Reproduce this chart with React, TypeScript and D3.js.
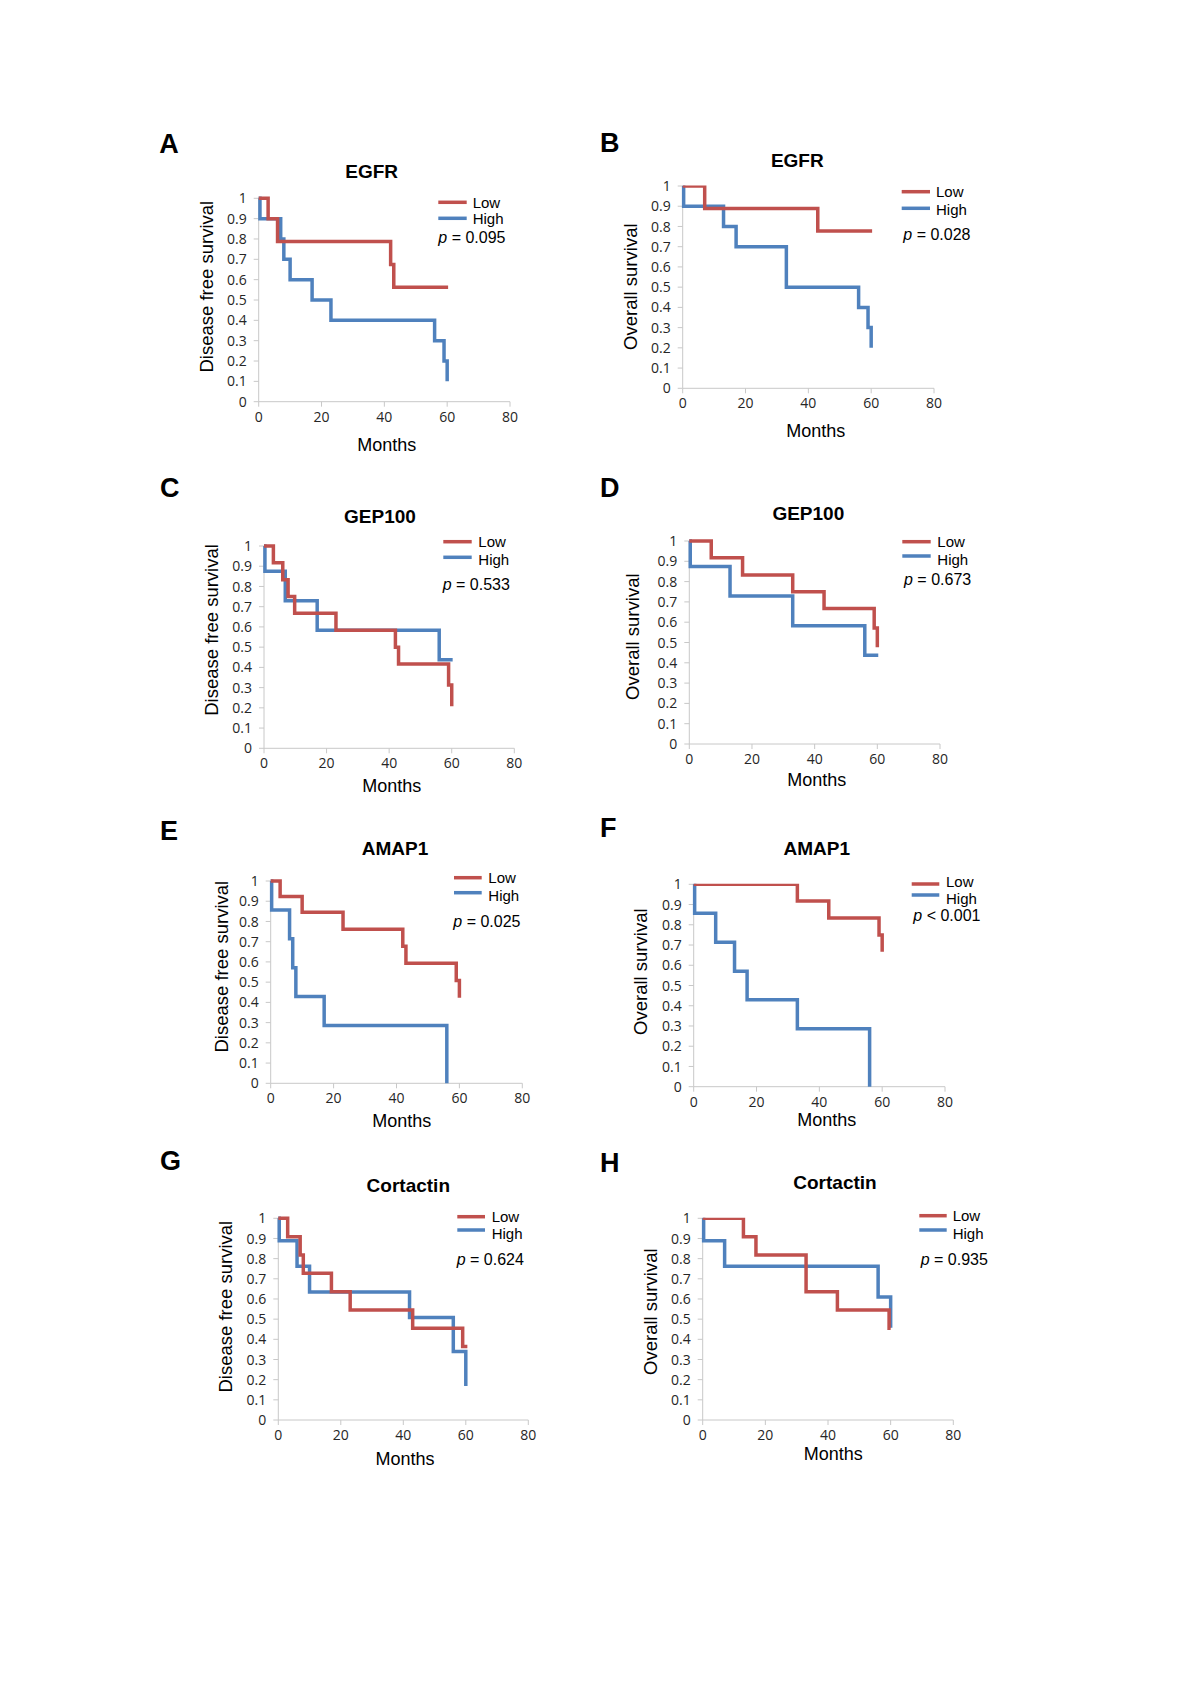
import React from "react";
import * as d3 from "d3";

// ---- tick labels ----
const monthTicks = [0, 20, 40, 60, 80];
const survivalTicks = [0, 0.1, 0.2, 0.3, 0.4, 0.5, 0.6, 0.7, 0.8, 0.9, 1];
const seriesNames = ["Low", "High"];

// ---- panel texts ----
const panelLetters = ["A", "B", "C", "D", "E", "F", "G", "H"];
const panelTitles = ["EGFR", "EGFR", "GEP100", "GEP100", "AMAP1", "AMAP1", "Cortactin", "Cortactin"];
const yLabels = [
  "Disease free survival", "Overall survival",
  "Disease free survival", "Overall survival",
  "Disease free survival", "Overall survival",
  "Disease free survival", "Overall survival",
];
const pOps = ["=", "=", "=", "=", "=", "<", "=", "="];
const pValues = ["0.095", "0.028", "0.533", "0.673", "0.025", "0.001", "0.624", "0.935"];

// ---- survival data (time in months, survival fraction) ----
const aLowT = [0, 3, 6, 42, 43, 60.3];
const aLowS = [1, 0.9, 0.7875, 0.675, 0.5625, 0.5625];
const aHighT = [0, 0.4, 7, 8, 10, 17, 23, 56, 59, 60];
const aHighS = [1, 0.9, 0.8, 0.7, 0.6, 0.5, 0.4, 0.3, 0.2, 0.1];

const bLowT = [0, 7, 43, 60.3];
const bLowS = [1, 0.889, 0.778, 0.778];
const bHighT = [0, 0.3, 13, 17, 33, 56, 59, 60];
const bHighS = [1, 0.9, 0.8, 0.7, 0.5, 0.4, 0.3, 0.2];

const cLowT = [0, 3, 6, 7.7, 9.8, 23, 42, 43, 59, 60];
const cLowS = [1, 0.917, 0.833, 0.75, 0.667, 0.583, 0.5, 0.417, 0.3125, 0.208];
const cHighT = [0, 0.3, 6.8, 17, 56, 60.3];
const cHighS = [1, 0.875, 0.729, 0.583, 0.4375, 0.4375];

const dLowT = [0, 7, 17, 33, 43, 59, 60];
const dLowS = [1, 0.917, 0.833, 0.75, 0.667, 0.571, 0.476];
const dHighT = [0, 0.3, 13, 33, 56, 60.3];
const dHighS = [1, 0.875, 0.729, 0.583, 0.4375, 0.4375];

const eLowT = [0, 3, 10, 23, 42, 43, 59, 60];
const eLowS = [1, 0.923, 0.846, 0.762, 0.677, 0.593, 0.508, 0.423];
const eHighT = [0, 0.3, 6, 7, 8, 17, 56];
const eHighS = [1, 0.857, 0.714, 0.571, 0.429, 0.286, 0];

const fLowT = [0, 33, 43, 59, 60];
const fLowS = [1, 0.917, 0.833, 0.75, 0.667];
const fHighT = [0, 0.3, 7, 13, 17, 33, 56];
const fHighS = [1, 0.857, 0.714, 0.571, 0.429, 0.286, 0];

const gLowT = [0, 3, 7, 8, 17, 23, 43, 59, 60.5];
const gLowS = [1, 0.909, 0.818, 0.727, 0.636, 0.545, 0.455, 0.364, 0.364];
const gHighT = [0, 0.3, 6, 10, 42, 56, 60];
const gHighS = [1, 0.889, 0.762, 0.635, 0.508, 0.339, 0.169];

const hLowT = [0, 13, 17, 33, 43, 59.5, 60];
const hLowS = [1, 0.909, 0.818, 0.636, 0.545, 0.455, 0.455];
const hHighT = [0, 0.3, 7, 56, 60];
const hHighS = [1, 0.889, 0.762, 0.61, 0.457];

const lowT = [aLowT, bLowT, cLowT, dLowT, eLowT, fLowT, gLowT, hLowT];
const lowS = [aLowS, bLowS, cLowS, dLowS, eLowS, fLowS, gLowS, hLowS];
const highT = [aHighT, bHighT, cHighT, dHighT, eHighT, fHighT, gHighT, hHighT];
const highS = [aHighS, bHighS, cHighS, dHighS, eHighS, fHighS, gHighS, hHighS];

// ---- layout (pixel positions of each panel) ----
type Layout = {
  x0: number; x1: number; yTop: number; yBot: number;
  title: [number, number]; letter: [number, number];
  ylab: [number, number]; months: [number, number];
  legX0: number; legX1: number; legTextX: number;
  legLineY: [number, number]; legTextY: [number, number];
  p: [number, number]; clipTop: boolean;
};
const layouts: Layout[] = [
  { x0: 258.7, x1: 510, yTop: 198.3, yBot: 401.7, title: [371.7, 178.3], letter: [159.3, 153.3], ylab: [206.7, 286.7], months: [386.7, 451], legX0: 438.3, legX1: 466.7, legTextX: 472.7, legLineY: [202.3, 218.3], legTextY: [202.3, 219], p: [438.3, 243.3], clipTop: false },
  { x0: 682.7, x1: 934, yTop: 186, yBot: 388.3, title: [797.3, 166.7], letter: [600, 151.7], ylab: [630, 286.7], months: [815.7, 436.7], legX0: 901.7, legX1: 930, legTextX: 936, legLineY: [191.7, 208.3], legTextY: [191.7, 210], p: [903.3, 240], clipTop: true },
  { x0: 264, x1: 514.3, yTop: 546, yBot: 748.3, title: [380, 523.3], letter: [160, 496.7], ylab: [211.7, 630], months: [391.7, 791.7], legX0: 443.3, legX1: 471.7, legTextX: 478.3, legLineY: [541.7, 557.3], legTextY: [541.7, 560], p: [442.7, 590], clipTop: false },
  { x0: 689.3, x1: 940, yTop: 541, yBot: 744, title: [808.3, 520], letter: [600, 496.7], ylab: [632.7, 636.7], months: [816.7, 786], legX0: 902.3, legX1: 930.7, legTextX: 937.3, legLineY: [541.7, 556], legTextY: [541.7, 559.3], p: [904, 585], clipTop: false },
  { x0: 270.7, x1: 522.3, yTop: 881, yBot: 1083.3, title: [395, 855], letter: [160, 840], ylab: [221.7, 966.7], months: [401.7, 1126.7], legX0: 454, legX1: 481.7, legTextX: 488.3, legLineY: [877.7, 892.7], legTextY: [877.7, 896], p: [453.3, 926.7], clipTop: false },
  { x0: 693.7, x1: 945, yTop: 884.3, yBot: 1086.7, title: [816.7, 855], letter: [600, 836.7], ylab: [640, 971.7], months: [826.7, 1126], legX0: 911.7, legX1: 939.3, legTextX: 946, legLineY: [884, 895], legTextY: [881.7, 898.3], p: [913.3, 921], clipTop: true },
  { x0: 278.3, x1: 528.3, yTop: 1218.3, yBot: 1420, title: [408.3, 1191.7], letter: [160, 1170], ylab: [225, 1306.7], months: [405, 1465], legX0: 457.3, legX1: 485, legTextX: 491.7, legLineY: [1216.7, 1230], legTextY: [1216.7, 1234], p: [456.7, 1265], clipTop: false },
  { x0: 702.7, x1: 953.3, yTop: 1218.3, yBot: 1420, title: [835, 1189.3], letter: [600, 1171.7], ylab: [650, 1311.7], months: [833.3, 1460], legX0: 919.3, legX1: 946.7, legTextX: 952.7, legLineY: [1215.7, 1230], legTextY: [1216, 1233.3], p: [920.7, 1265], clipTop: true },
];

const RED = "#c0504d";
const BLUE = "#4f81bd";
const AXIS = "#c8c8c8";
const SANS = "'Liberation Sans', Arial, Helvetica, sans-serif";
const TICKFONT = "'Open Sans', 'Liberation Sans', sans-serif";

function Panel({ i }: { i: number }) {
  const L = layouts[i];
  const x = d3.scaleLinear().domain([0, 80]).range([L.x0, L.x1]);
  const y = d3.scaleLinear().domain([0, 1]).range([L.yBot, L.yTop]);
  const line = d3
    .line<[number, number]>()
    .x((d) => x(d[0]))
    .y((d) => y(d[1]))
    .curve(d3.curveStepAfter);
  const lowPts = lowT[i].map((t, k) => [t, lowS[i][k]] as [number, number]);
  const highPts = highT[i].map((t, k) => [t, highS[i][k]] as [number, number]);
  const colors = [RED, BLUE];
  const clipId = `clip-${i}`;

  return (
    <g>
      <defs>
        <clipPath id={clipId}>
          <rect
            x={x(0) - 10}
            y={L.clipTop ? y(1) - 0.6 : y(1) - 10}
            width={x(80) - x(0) + 20}
            height={y(0) - y(1) + 20}
          />
        </clipPath>
      </defs>
      <text x={L.letter[0]} y={L.letter[1]} fontFamily={SANS} fontWeight="bold" fontSize={27} fill="#000">
        {panelLetters[i]}
      </text>
      <text x={L.title[0]} y={L.title[1]} textAnchor="middle" fontFamily={SANS} fontWeight="bold" fontSize={19} fill="#000">
        {panelTitles[i]}
      </text>
      {/* axes */}
      <line x1={x(0)} x2={x(80)} y1={y(0)} y2={y(0)} stroke={AXIS} strokeWidth={1} />
      <line x1={x(0)} x2={x(0)} y1={y(0)} y2={y(1)} stroke={AXIS} strokeWidth={1} />
      {survivalTicks.map((v) => (
        <g key={"y" + v}>
          <line x1={x(0) - 5} x2={x(0)} y1={y(v)} y2={y(v)} stroke={AXIS} strokeWidth={1} />
          <text x={x(0) - 12} y={y(v)} dy="0.36em" textAnchor="end" fontFamily={TICKFONT} fontSize={14} fill="#262626">
            {d3.format("~g")(v)}
          </text>
        </g>
      ))}
      {monthTicks.map((v) => (
        <g key={"x" + v}>
          <line x1={x(v)} x2={x(v)} y1={y(0)} y2={y(0) + 5} stroke={AXIS} strokeWidth={1} />
          <text x={x(v)} y={y(0) + 20} textAnchor="middle" fontFamily={TICKFONT} fontSize={14} fill="#262626">
            {v}
          </text>
        </g>
      ))}
      {/* curves */}
      <g clipPath={`url(#${clipId})`}>
        <path d={line(highPts) || ""} fill="none" stroke={BLUE} strokeWidth={3.5} strokeLinejoin="miter" />
        <path d={line(lowPts) || ""} fill="none" stroke={RED} strokeWidth={3.5} strokeLinejoin="miter" />
      </g>
      {/* axis labels */}
      <text
        transform={`translate(${L.ylab[0]},${L.ylab[1]}) rotate(-90)`}
        textAnchor="middle"
        dominantBaseline="central"
        fontFamily={SANS}
        fontSize={18.5}
        fill="#000"
      >
        {yLabels[i]}
      </text>
      <text x={L.months[0]} y={L.months[1]} textAnchor="middle" fontFamily={SANS} fontSize={18} fill="#000">
        Months
      </text>
      {/* legend */}
      {seriesNames.map((name, k) => (
        <g key={name}>
          <line x1={L.legX0} x2={L.legX1} y1={L.legLineY[k]} y2={L.legLineY[k]} stroke={colors[k]} strokeWidth={3.5} />
          <text x={L.legTextX} y={L.legTextY[k]} dy="0.36em" fontFamily={SANS} fontSize={15} fill="#000">
            {name}
          </text>
        </g>
      ))}
      <text x={L.p[0]} y={L.p[1]} fontFamily={SANS} fontSize={16} fill="#000">
        <tspan fontStyle="italic">p</tspan>
        {` ${pOps[i]} ${pValues[i]}`}
      </text>
    </g>
  );
}

export default function App() {
  return (
    <svg
      width={1200}
      height={1698}
      viewBox="0 0 1200 1698"
      style={{ position: "absolute", left: 0, top: 0, background: "#fff" }}
    >
      <rect width={1200} height={1698} fill="#fff" />
      {layouts.map((_, i) => (
        <Panel key={i} i={i} />
      ))}
    </svg>
  );
}
